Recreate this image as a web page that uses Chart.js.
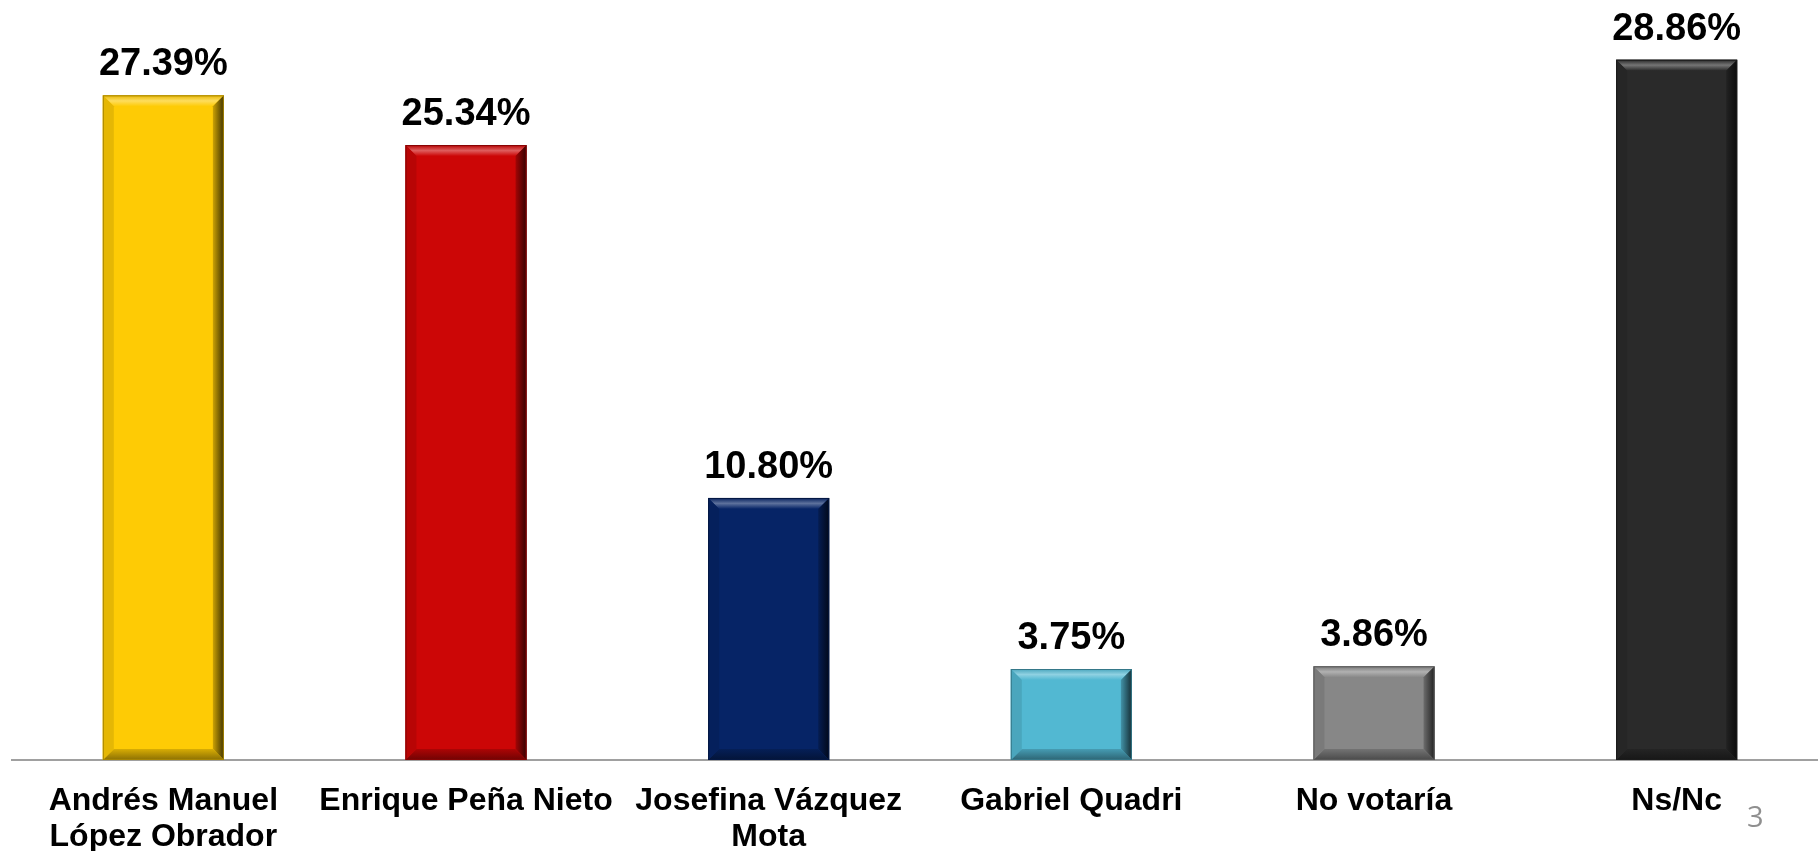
<!DOCTYPE html>
<html>
<head>
<meta charset="utf-8">
<script src="https://cdn.jsdelivr.net/npm/chart.js@4"></script>
<style>
  html, body { margin: 0; padding: 0; background: #fff; overflow: hidden; }
  #wrap { position: relative; width: 1840px; height: 851px; }
  #myChart { display: block; }
  #pagina { position: absolute; left: 1747px; top: 796px; font: 29px "Open Sans", sans-serif; color: #8f8f8f; }
</style>
</head>
<body>
<div id="wrap">
  <canvas id="myChart" width="1840" height="851"></canvas>
  <div id="pagina">3</div>
</div>
<script>
// categorias y valores (%)
var candidatos = [['Andrés Manuel', 'López Obrador'], 'Enrique Peña Nieto', ['Josefina Vázquez', 'Mota'], 'Gabriel Quadri', 'No votaría', 'Ns/Nc'];
var porcentajes = [27.39, 25.34, 10.80, 3.75, 3.86, 28.86];
var colores = ['#FECB05', '#CC0606', '#062466', '#52B8D2', '#878787', '#2A2A2A'];

function mezcla(hex, otro, t) {
  var a = parseInt(hex.slice(1), 16), b = parseInt(otro.slice(1), 16);
  var r = Math.round(((a >> 16) & 255) * (1 - t) + ((b >> 16) & 255) * t);
  var g = Math.round(((a >> 8) & 255) * (1 - t) + ((b >> 8) & 255) * t);
  var bl = Math.round((a & 255) * (1 - t) + (b & 255) * t);
  return 'rgb(' + r + ',' + g + ',' + bl + ')';
}

// efecto de bisel en cada barra + etiquetas de valor
var bisel = {
  id: 'bisel',
  afterDatasetsDraw: function(chart) {
    var ctx = chart.ctx;
    var meta = chart.getDatasetMeta(0);
    meta.data.forEach(function(bar, i) {
      var c = colores[i];
      var l = bar.x - bar.width / 2, r = bar.x + bar.width / 2, t = bar.y, b = bar.base, s = 11;
      ctx.save();
      // arriba
      var g = ctx.createLinearGradient(0, t, 0, t + s);
      g.addColorStop(0, mezcla(c, '#000000', 0.1));
      g.addColorStop(0.5, mezcla(c, '#ffffff', 0.35));
      g.addColorStop(1, c);
      ctx.fillStyle = g;
      ctx.beginPath(); ctx.moveTo(l, t); ctx.lineTo(r, t); ctx.lineTo(r - s, t + s); ctx.lineTo(l + s, t + s); ctx.closePath(); ctx.fill();
      // derecha
      g = ctx.createLinearGradient(r - s, 0, r, 0);
      g.addColorStop(0, mezcla(c, '#000000', 0.2));
      g.addColorStop(1, mezcla(c, '#000000', 0.75));
      ctx.fillStyle = g;
      ctx.beginPath(); ctx.moveTo(r, t); ctx.lineTo(r, b); ctx.lineTo(r - s, b - s); ctx.lineTo(r - s, t + s); ctx.closePath(); ctx.fill();
      // abajo
      g = ctx.createLinearGradient(0, b - s, 0, b);
      g.addColorStop(0, mezcla(c, '#000000', 0.15));
      g.addColorStop(1, mezcla(c, '#000000', 0.45));
      ctx.fillStyle = g;
      ctx.beginPath(); ctx.moveTo(l, b); ctx.lineTo(r, b); ctx.lineTo(r - s, b - s); ctx.lineTo(l + s, b - s); ctx.closePath(); ctx.fill();
      // izquierda
      ctx.fillStyle = mezcla(c, '#000000', 0.1);
      ctx.beginPath(); ctx.moveTo(l, t); ctx.lineTo(l, b); ctx.lineTo(l + s, b - s); ctx.lineTo(l + s, t + s); ctx.closePath(); ctx.fill();
      ctx.strokeStyle = mezcla(c, '#000000', 0.35);
      ctx.lineWidth = 1;
      ctx.strokeRect(l + 0.5, t + 0.5, r - l - 1, b - t - 1);
      // valor
      ctx.fillStyle = '#000';
      ctx.font = 'bold 38px "Liberation Sans", Arial, sans-serif';
      ctx.textAlign = 'center';
      ctx.textBaseline = 'alphabetic';
      ctx.fillText(porcentajes[i].toFixed(2) + '%', bar.x, t - 20);
      ctx.restore();
    });
  }
};

var ctx = document.getElementById('myChart').getContext('2d');
var myChart = new Chart(ctx, {
  type: 'bar',
  data: {
    labels: candidatos,
    datasets: [{
      data: porcentajes,
      backgroundColor: colores,
      borderWidth: 0,
      categoryPercentage: 1,
      barPercentage: 0.4
    }]
  },
  options: {
    responsive: false,
    animation: false,
    layout: { padding: { left: 12, right: 12, top: 32, bottom: 0 } },
    plugins: { legend: { display: false }, tooltip: { enabled: false } },
    scales: {
      x: {
        grid: { display: false, drawTicks: false },
        border: { display: true, color: '#A0A0A0', width: 2 },
        ticks: {
          color: '#000',
          padding: 23,
          maxRotation: 0,
          autoSkip: false,
          font: { family: '"Liberation Sans", Arial, sans-serif', size: 32, weight: 'bold', lineHeight: 1.12 }
        },
        afterFit: function(scale) { scale.height = 91; }
      },
      y: { display: false, min: 0, max: 30 }
    }
  },
  plugins: [bisel]
});
</script>
</body>
</html>
